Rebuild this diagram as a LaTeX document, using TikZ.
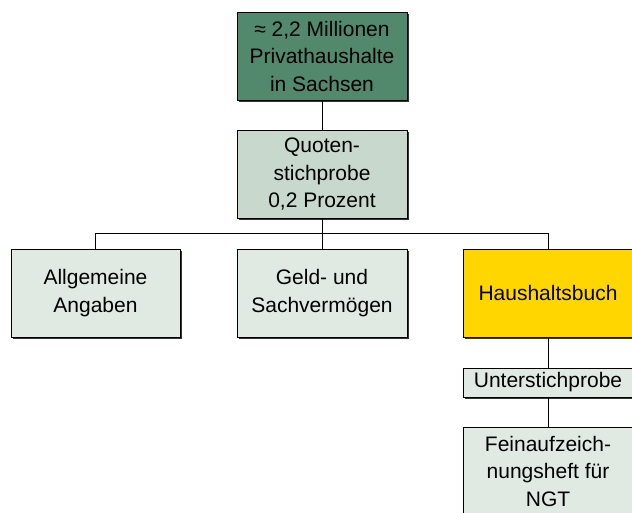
\documentclass[tikz,border=0pt]{standalone}
\usepackage{fontspec}
\setmainfont{Liberation Sans}
\usetikzlibrary{shadows}
\definecolor{darkgreen}{RGB}{82,136,108}
\definecolor{midgreen}{RGB}{200,216,204}
\definecolor{palegreen}{RGB}{224,234,227}
\definecolor{gold}{RGB}{255,214,0}
\begin{document}
\begin{tikzpicture}[x=1pt, y=-1pt]
\tikzstyle{every node}=[draw, line width=0.8pt, align=center, minimum width=170pt,
  minimum height=88pt, inner sep=2pt, font=\fontsize{21}{27.5}\selectfont,
  drop shadow={shadow xshift=1.6pt, shadow yshift=-1.6pt, fill=black!80, opacity=1}]
\useasboundingbox (0,0) rectangle (632,513);
\node[rectangle, fill=darkgreen](hh) at (322,56) {≈ 2,2 Millionen\\Privathaushalte\\in Sachsen};
\node[rectangle, fill=midgreen](quote) at (322,174.5) {Quoten-\\stichprobe\\0,2 Prozent};
\node[rectangle, fill=palegreen, minimum width=169pt](allg) at (95.5,293) {Allgemeine\\Angaben};
\node[rectangle, fill=palegreen](geld) at (322,293) {Geld- und\\Sachverm\"ogen};
\node[rectangle, fill=gold](buch) at (548,293) {Haushaltsbuch};
\node[rectangle, fill=palegreen, minimum height=29pt](unter) at (548,382.5) {Unterstichprobe};
\node[rectangle, fill=palegreen](fein) at (548,471) {Feinaufzeich-\\nungsheft f\"ur\\NGT};
\draw[line width=0.8pt] (hh.south) -- (quote.north);
\draw[line width=0.8pt] (quote.south) -- (geld.north);
\draw[line width=0.8pt] (quote.south) -- +(0,15) -| (allg.north);
\draw[line width=0.8pt] (quote.south) -- +(0,15) -| (buch.north);
\draw[line width=0.8pt] (buch.south) -- (unter.north);
\draw[line width=0.8pt] (unter.south) -- (fein.north);
\end{tikzpicture}
\end{document}
